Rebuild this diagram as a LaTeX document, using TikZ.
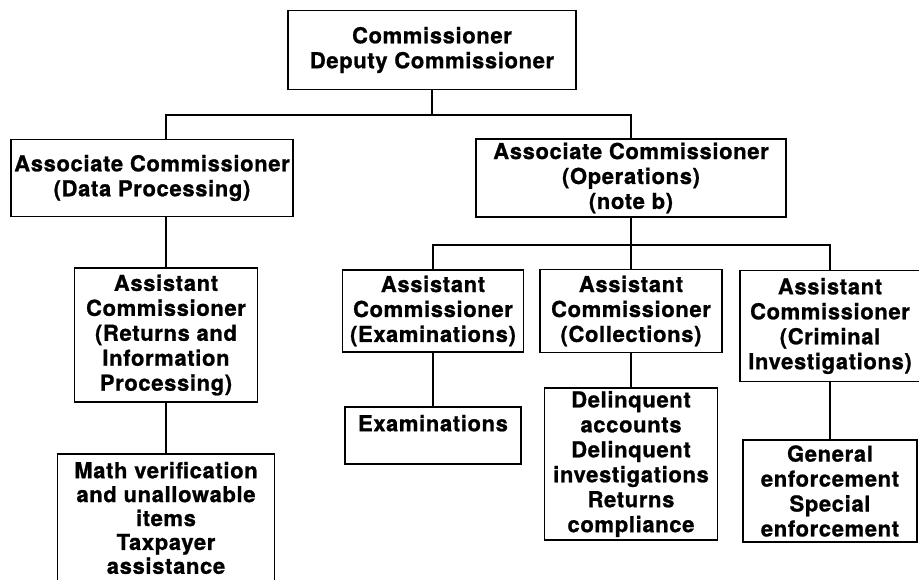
\documentclass[tikz,border=0pt]{standalone}
\usepackage{fontspec}
\setmainfont{TeX Gyre Heros}[LetterSpace=3,FakeBold=1]
\usepackage{tikz}

\tikzset{
	orgbox/.style={draw, line width=1.1pt, align=center, inner sep=2pt,
		font=\bfseries\fontsize{12.5}{14.2}\selectfont},
	link/.style={line width=1.1pt}
}

\begin{document}
\begin{tikzpicture}[x=0.02cm,y=-0.02cm]
		\useasboundingbox (0,0) rectangle (919,580);
		\clip (0,0) rectangle (919,580);
		%
		\node[orgbox, minimum width=5.76cm, minimum height=1.58cm] (cmr) at (432,50) {Commissioner\\Deputy Commissioner};
		\node[orgbox, minimum width=5.62cm, minimum height=1.54cm] (adp) at (152,178) {Associate Commissioner\\(Data Processing)};
		\node[orgbox, minimum width=6.2cm, minimum height=1.46cm] (aop) at (631,178) {Associate Commissioner\\(Operations)\\(note b)};
		% assistant commissioners
		\node[orgbox, minimum width=3.66cm, minimum height=2.68cm] (arip) at (166,335) {Assistant\\Commissioner\\(Returns and\\Information\\Processing)};
		\node[orgbox, minimum width=3.62cm, minimum height=1.64cm] (aex) at (433,311) {Assistant\\Commissioner\\(Examinations)};
		\node[orgbox, minimum width=3.64cm, minimum height=1.66cm] (acol) at (631,311) {Assistant\\Commissioner\\(Collections)};
		\node[orgbox, minimum width=3.6cm, minimum height=2.22cm] (aci) at (830,326) {Assistant\\Commissioner\\(Criminal\\Investigations)};
		% functions
		\node[orgbox, minimum width=4.34cm, inner ysep=4.5pt, anchor=north,
			font=\bfseries\fontsize{12.5}{13.6}\selectfont] (mth) at (166,453) {Math verification\\and unallowable\\items\\Taxpayer\\assistance\\~};
		\node[orgbox, minimum width=3.52cm, inner ysep=4.5pt, anchor=north] (exm) at (433,406) {Examinations\\~};
		\node[orgbox, minimum width=3.46cm, minimum height=2.96cm] (del) at (631,464) {Delinquent\\accounts\\Delinquent\\investigations\\Returns\\compliance};
		\node[orgbox, minimum width=3.48cm, minimum height=2.04cm] (enf) at (830,491) {General\\enforcement\\Special\\enforcement};
		%
		\coordinate (bus1) at (0,115);
		\coordinate (bus2) at (0,245);
		% upper level
		\draw[link] (cmr.south) -- (cmr.south |- bus1);
		\draw[link] (adp.north -| arip) |- (aop.north |- bus1) -- (aop.north);
		\draw[link] (adp.south -| arip) -- (arip.north);
		\draw[link] (arip.south) -- (mth.north);
		% operations
		\draw[link] (aop.south) -- (acol.north);
		\draw[link] (aex.north) |- (aci.north |- bus2) -- (aci.north);
		\draw[link] (aex.south) -- (exm.north);
		\draw[link] (acol.south) -- (del.north);
		\draw[link] (aci.south) -- (enf.north);
	\end{tikzpicture}
\end{document}
